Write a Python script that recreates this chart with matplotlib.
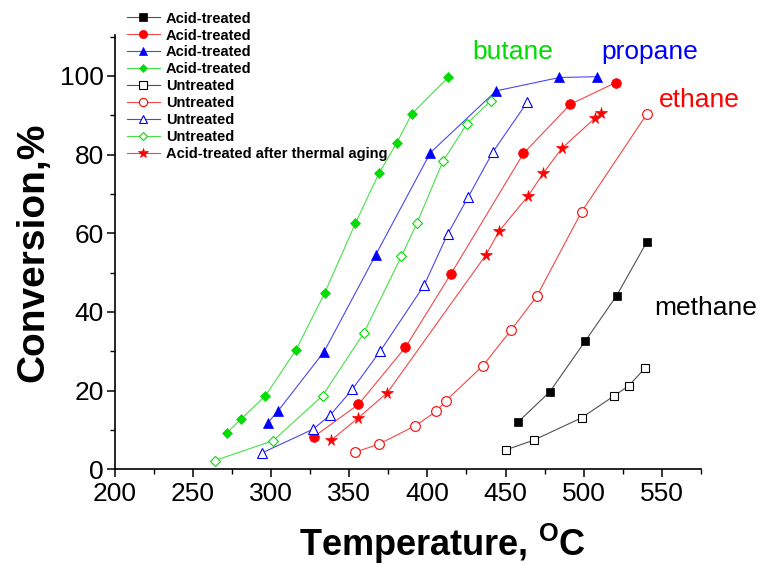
import matplotlib
matplotlib.use("Agg")
import matplotlib.pyplot as plt
from matplotlib import font_manager as fm
from matplotlib.ticker import MultipleLocator

# ---------------- data ----------------
methane_acid_T = [458, 478.3, 501, 521, 540.5]
methane_acid_X = [12.0, 19.7, 32.6, 44.1, 57.9]

ethane_acid_T = [327.5, 356, 386, 415, 461.5, 491.5, 520.5]
ethane_acid_X = [8.3, 16.5, 31.0, 49.6, 80.3, 92.8, 98.3]

propane_acid_T = [298, 304.5, 334, 367, 402, 444, 484.5, 508.5]
propane_acid_X = [11.8, 14.8, 29.9, 54.5, 80.5, 96.2, 99.6, 99.8]

butane_acid_T = [272, 281, 296.5, 316, 334.5, 354, 369, 380.5, 390, 413.5]
butane_acid_X = [9.3, 12.8, 18.7, 30.3, 44.9, 62.5, 75.2, 83.0, 90.3, 99.7]

methane_un_T = [450, 468, 498.7, 519.2, 528.7, 539.2]
methane_un_X = [4.9, 7.4, 13.1, 18.6, 21.2, 25.7]

ethane_un_T = [353.5, 369, 392, 405.7, 411.8, 435.5, 453.6, 470, 498.7, 540.2]
ethane_un_X = [4.3, 6.4, 11.0, 14.7, 17.4, 26.3, 35.4, 44.0, 65.5, 90.2]

propane_un_T = [294.5, 327, 338, 352, 370, 398, 413, 426, 442, 464]
propane_un_X = [4.2, 10.2, 13.8, 20.3, 30.1, 46.8, 59.8, 69.1, 80.7, 93.4]

butane_un_T = [264, 301.5, 333, 359.5, 383.5, 393.5, 410, 425.5, 440.5]
butane_un_X = [2.2, 7.3, 18.7, 34.7, 54.2, 62.7, 78.3, 87.9, 93.7]

aged_T = [338.5, 356, 374.5, 437.5, 446, 464.5, 474, 486, 507, 511]
aged_X = [7.4, 13.1, 19.5, 54.5, 60.6, 69.5, 75.2, 81.6, 89.2, 90.5]

legend_labels = ["Acid-treated", "Acid-treated", "Acid-treated", "Acid-treated",
                 "Untreated", "Untreated", "Untreated", "Untreated",
                 "Acid-treated after thermal aging"]
x_ticks = [200, 250, 300, 350, 400, 450, 500, 550]
y_ticks = [0, 20, 40, 60, 80, 100]

# ---------------- style ----------------
names = {f.name for f in fm.fontManager.ttflist}
narrow = "Liberation Sans Narrow" in names
tick_family = "Liberation Sans Narrow" if narrow else "Liberation Sans"
tick_size = 22 if narrow else 19

plt.rcParams["font.family"] = ["Liberation Sans", "DejaVu Sans"]
plt.rcParams["mathtext.fontset"] = "custom"
plt.rcParams["mathtext.rm"] = "Liberation Sans:bold"
plt.rcParams["mathtext.bf"] = "Liberation Sans:bold"
plt.rcParams["mathtext.it"] = "Liberation Sans:bold"

BLACK, RED, BLUE, GREEN = "#000000", "#FF0000", "#0000FF", "#00DD00"
LBLACK, LRED, LBLUE, LGREEN = "#505050", "#F04848", "#4848F0", "#48E048"

fig = plt.figure(figsize=(7.61, 5.66), dpi=100)
ax = fig.add_axes([114.5 / 761, (566 - 469.3) / 566, (701 - 114.5) / 761, (469.3 - 35) / 566])

lw = 0.8
series = [
    (methane_acid_T, methane_acid_X, "s", BLACK, LBLACK, True, 6.0),
    (ethane_acid_T, ethane_acid_X, "o", RED, LRED, True, 7.0),
    (propane_acid_T, propane_acid_X, "^", BLUE, LBLUE, True, 7.5),
    (butane_acid_T, butane_acid_X, "D", GREEN, LGREEN, True, 5.2),
    (methane_un_T, methane_un_X, "s", BLACK, LBLACK, False, 6.0),
    (ethane_un_T, ethane_un_X, "o", RED, LRED, False, 7.0),
    (propane_un_T, propane_un_X, "^", BLUE, LBLUE, False, 7.5),
    (butane_un_T, butane_un_X, "D", GREEN, LGREEN, False, 5.2),
    (aged_T, aged_X, "*", RED, LRED, True, 8.5),
]
handles = []
for (t, x, m, c, lc, filled, ms), lab in zip(series, legend_labels):
    h, = ax.plot(t, x, color=lc, lw=lw, marker=m, markersize=ms,
                 markerfacecolor=c if filled else "white",
                 markeredgecolor=c, markeredgewidth=0.5 if filled else 0.8,
                 label=lab, zorder=3)
    handles.append(h)

ax.set_xlim(200, 575)
ax.set_ylim(0, 110.4)
ax.set_xticks(x_ticks)
ax.set_yticks(y_ticks)
ax.xaxis.set_minor_locator(MultipleLocator(25))
ax.yaxis.set_minor_locator(MultipleLocator(10))
for s in ("top", "right"):
    ax.spines[s].set_visible(False)
for s in ("left", "bottom"):
    ax.spines[s].set_linewidth(1.2)
ax.tick_params(which="major", direction="out", length=6, width=1.1)
ax.tick_params(which="minor", direction="out", length=3.5, width=1.0)
ax.tick_params(axis="x", which="major", pad=3.5)
ax.tick_params(axis="y", which="major", pad=1.5)
for lab in ax.get_xticklabels() + ax.get_yticklabels():
    lab.set_fontfamily(tick_family)
    lab.set_fontsize(tick_size)

ax.set_xlabel(r"Temperature, $^{\mathbf{O}}$C", fontsize=26, fontweight="bold")
ax.xaxis.set_label_coords((442 - 114.5) / 586.5, (469.3 - 556) / 434.3)
ax.xaxis.label.set_va("baseline")
ax.set_ylabel("Conversion,%", fontsize=28, fontweight="bold")
ax.yaxis.set_label_coords((33 - 114.5) / 586.5, 0.5)
ax.yaxis.label.set_va("center")

lab_kw = dict(fontsize=19, ha="left", va="baseline", clip_on=False)
ax.text(429.1, 104.4, "butane", color=GREEN, **lab_kw)
ax.text(511.1, 104.4, "propane", color=BLUE, **lab_kw)
ax.text(548.3, 92.1, "ethane", color=RED, **lab_kw)
ax.text(545.1, 39.2, "methane", color=BLACK, **lab_kw)

leg = fig.legend(handles=handles, labels=legend_labels, loc="upper left",
                 bbox_to_anchor=(127 / 761, 1 - 11.6 / 566), bbox_transform=fig.transFigure,
                 frameon=False, borderpad=0, borderaxespad=0,
                 handlelength=2.26, handletextpad=0.4, labelspacing=0.2,
                 markerscale=0.85,
                 prop={"family": "Liberation Sans", "weight": "bold", "size": 10.5})

fig.savefig("out.png", dpi=100)
